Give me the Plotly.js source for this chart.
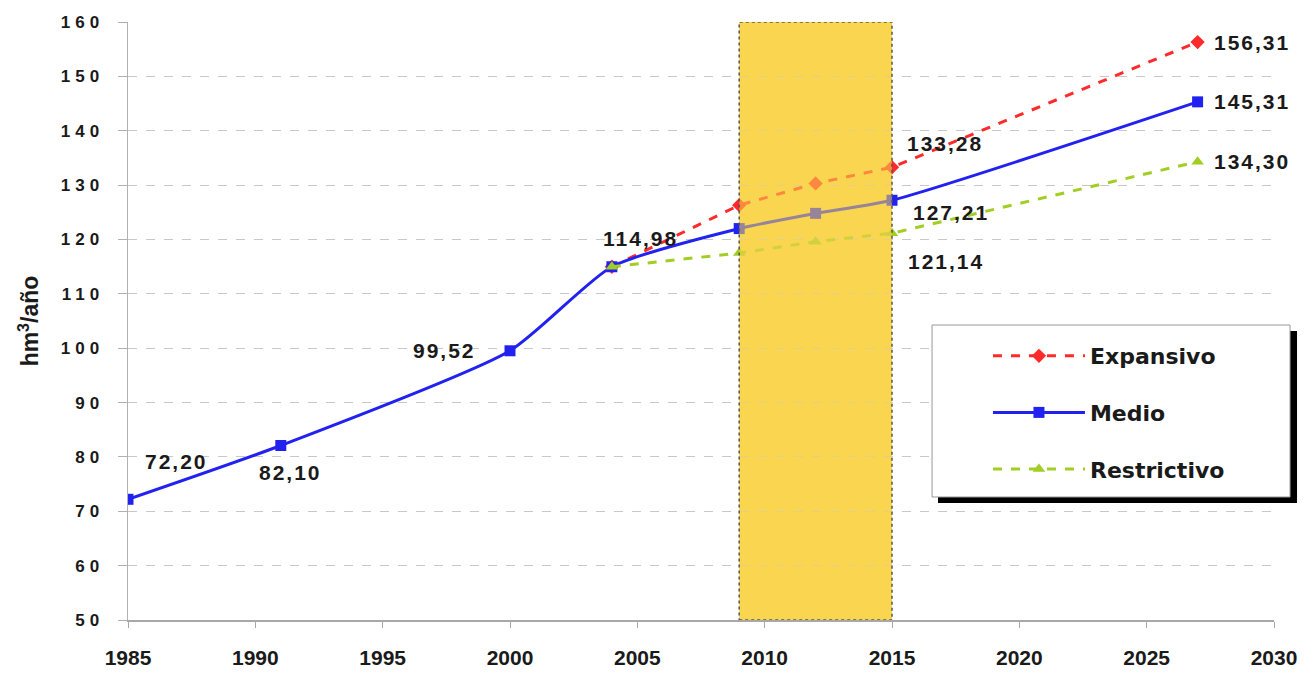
<!DOCTYPE html>
<html>
<head>
<meta charset="utf-8">
<script src="https://cdn.plot.ly/plotly-3.0.1.min.js"></script>
<style>
html,body{margin:0;padding:0;background:#fff;}
#chart{width:1314px;height:674px;}
#chart .ytick text{letter-spacing:5px;}
#chart .annotation-text{letter-spacing:2px;}
</style>
</head>
<body>
<div id="chart"></div>
<script>
// Data
const medioYears = [1985, 1991, 2000, 2004, 2009, 2012, 2015, 2027];
const medioValues = [72.20, 82.10, 99.52, 114.98, 122.0, 124.8, 127.21, 145.31];
const expYears = [2004, 2009, 2012, 2015, 2027];
const expValues = [114.98, 126.3, 130.3, 133.28, 156.31];
const resYears = [2004, 2009, 2012, 2015, 2027];
const resValues = [114.98, 117.5, 119.6, 121.14, 134.30];
const seriesNames = ["Expansivo", "Medio", "Restrictivo"];
const bandStart = 2009, bandEnd = 2015;
const yTicks = [50, 60, 70, 80, 90, 100, 110, 120, 130, 140, 150, 160];
const xTicks = [1985, 1990, 1995, 2000, 2005, 2010, 2015, 2020, 2025, 2030];

const fmt = v => v.toFixed(2).replace('.', ',');
const FAM = 'Liberation Sans, Arial, sans-serif';
const labelFont = {family: FAM, size: 21, color: '#1a1a1a', weight: 'bold'};

const traces = [
  {x: expYears, y: expValues, name: seriesNames[0], legendgroup: 'a', mode: 'lines+markers',
   line: {color: '#ff2a2a', width: 3, dash: 'dash'}, marker: {symbol: 'diamond', size: 11, color: '#ff2a2a'}},
  {x: medioYears, y: medioValues, name: seriesNames[1], legendgroup: 'b', mode: 'lines+markers',
   line: {color: '#2222f0', width: 3, shape: 'spline', smoothing: 0.6}, marker: {symbol: 'square', size: 11, color: '#2222f0'}},
  {x: resYears, y: resValues, name: seriesNames[2], legendgroup: 'c', mode: 'lines+markers',
   line: {color: '#a2cd24', width: 3, dash: 'dash'}, marker: {symbol: 'triangle-up', size: 11, color: '#a2cd24'}}
];

// Labels: [series x array, series y array, index, xshift, yshift, xanchor]
const labelSpecs = [
  [medioYears, medioValues, 0, 48, 38, 'center'],
  [medioYears, medioValues, 1, 10, -27, 'center'],
  [medioYears, medioValues, 2, -66, 0, 'center'],
  [medioYears, medioValues, 3, 29, 28, 'center'],
  [expYears, expValues, 3, 53, 24, 'center'],
  [medioYears, medioValues, 6, 59, -12, 'center'],
  [resYears, resValues, 3, 54, -28, 'center'],
  [expYears, expValues, 4, 20, 0, 'left'],
  [medioYears, medioValues, 7, 20, 0, 'left'],
  [resYears, resValues, 4, 20, 0, 'left']
];
const annotations = labelSpecs.map(s => ({
  x: s[0][s[2]], y: s[1][s[2]], text: fmt(s[1][s[2]]), showarrow: false,
  xshift: s[3], yshift: s[4], xanchor: s[5], yanchor: 'middle', font: labelFont
}));

const layout = {
  width: 1314, height: 674,
  margin: {l: 128, r: 40, t: 22, b: 54},
  paper_bgcolor: '#fff', plot_bgcolor: '#fff',
  font: {family: FAM, color: '#1a1a1a'},
  xaxis: {range: [1985, 2030], tickvals: xTicks, ticktext: xTicks.map(String), showgrid: false, zeroline: false,
    showline: true, linecolor: '#a8a8a8', linewidth: 1.5, ticks: 'outside', ticklen: 6, tickcolor: '#a8a8a8',
    ticklabelstandoff: 12,
    tickfont: {size: 21, weight: 'bold', color: '#1a1a1a'}},
  yaxis: {range: [50, 160], tickvals: yTicks, showgrid: true, gridcolor: '#c8c8c8', griddash: 'dash', gridwidth: 1,
    zeroline: false, showline: true, linecolor: '#b0b0b0', linewidth: 1.5, ticks: 'outside', ticklen: 9, tickcolor: '#b0b0b0',
    ticklabelstandoff: 10,
    tickfont: {size: 17, weight: 'bold', color: '#1a1a1a'},
    title: {text: 'hm<sup>3</sup>/año', font: {size: 23, weight: 'bold', color: '#1a1a1a'}, standoff: 30}},
  showlegend: true,
  legend: {x: 0.7504, y: 0.4766, xanchor: 'left', yanchor: 'top', bgcolor: 'rgba(0,0,0,0)', borderwidth: 0,
    traceorder: 'grouped', tracegroupgap: 25, itemwidth: 92,
    font: {family: 'DejaVu Sans, sans-serif', size: 22, weight: 'bold', color: '#1a1a1a'}},
  shapes: [
    {type: 'rect', xref: 'x', yref: 'y', x0: bandStart, x1: bandEnd, y0: 50, y1: 160, layer: 'below',
     fillcolor: 'rgb(249,214,80)', line: {width: 0}},
    {type: 'rect', xref: 'x', yref: 'y', x0: bandStart, x1: bandEnd, y0: 50, y1: 160, layer: 'above',
     fillcolor: 'rgba(249,214,80,0.55)', line: {color: '#555', width: 1.5, dash: 'dot'}},
    {type: 'rect', xref: 'paper', yref: 'paper', x0: 0.7068, x1: 1.0201, y0: 0.1957, y1: 0.4833, layer: 'above',
     fillcolor: '#000', line: {width: 0}},
    {type: 'rect', xref: 'paper', yref: 'paper', x0: 0.7016, x1: 1.0140, y0: 0.2057, y1: 0.4933, layer: 'above',
     fillcolor: '#fff', line: {color: '#999', width: 1}}
  ],
  annotations: annotations
};

Plotly.newPlot('chart', traces, layout, {displayModeBar: false, staticPlot: true});
</script>
</body>
</html>
